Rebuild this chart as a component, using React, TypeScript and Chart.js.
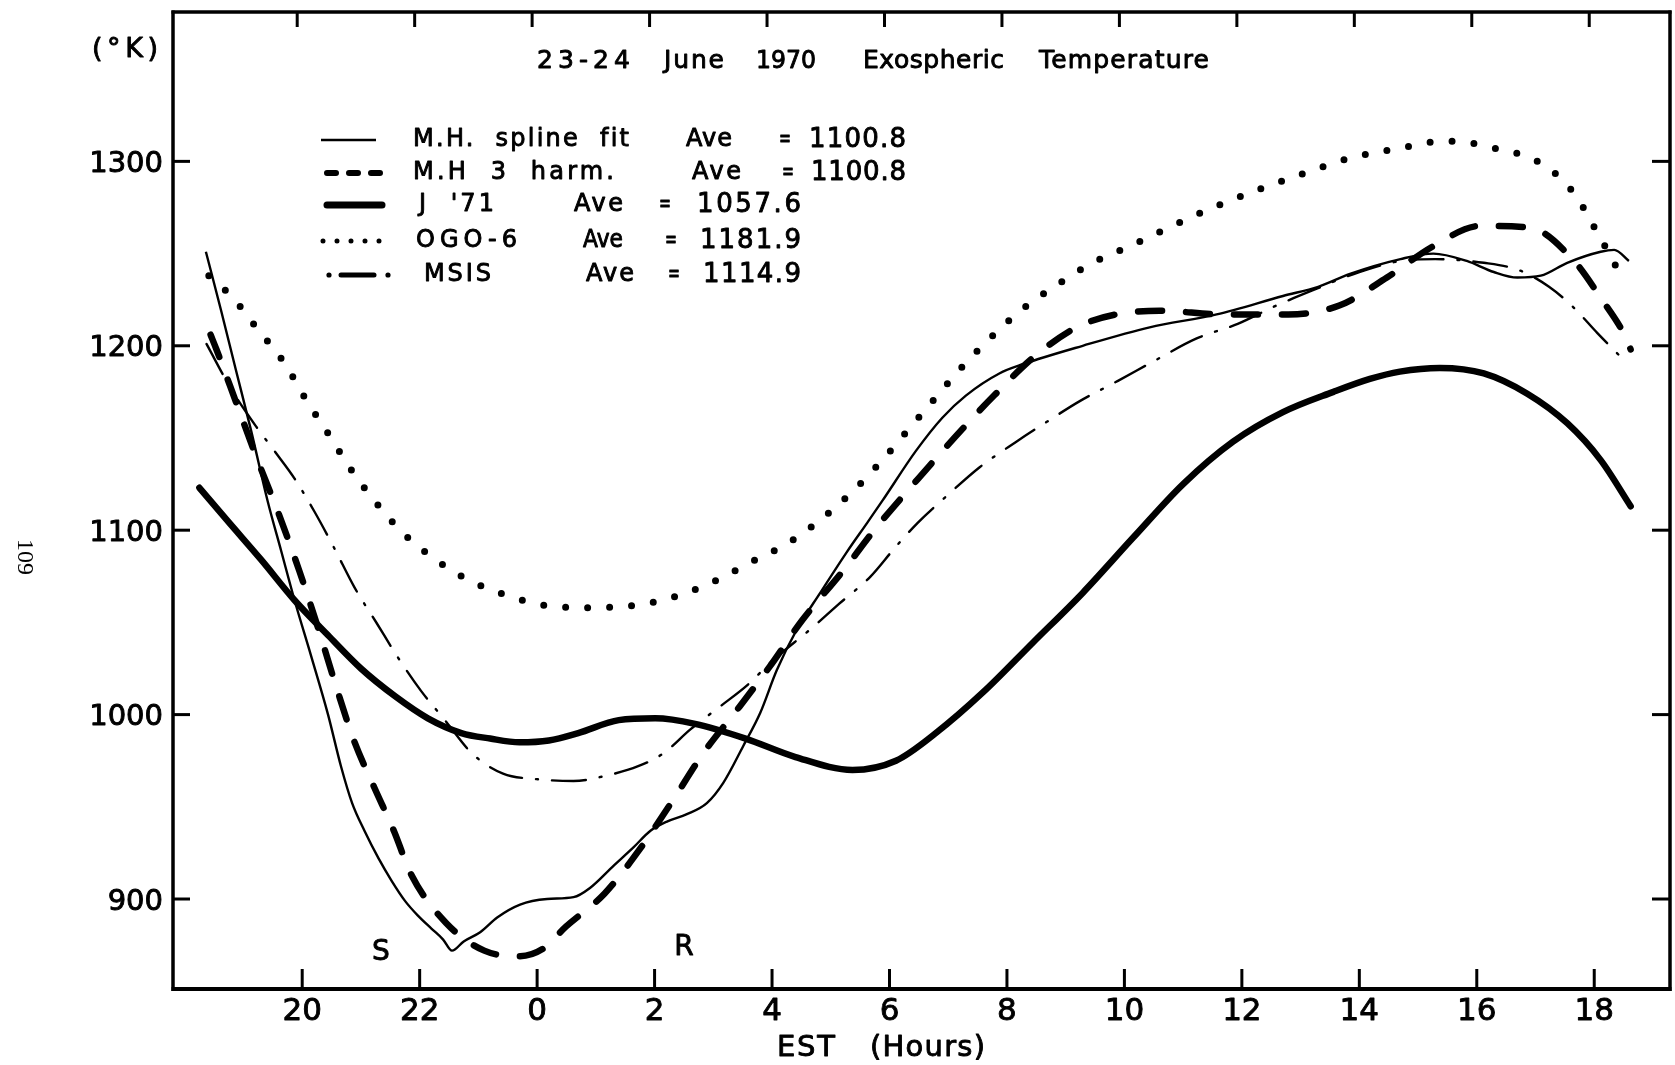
import React, { useEffect, useRef } from 'react';
import { Chart, registerables } from 'chart.js';

Chart.register(...registerables);

// Time runs continuously in EST hours: 18-24 is the evening of 23 June, 24-43 is 24 June.
const splineHours = [18.36, 18.62, 18.87, 19.13, 19.41, 19.64, 19.87, 20.15, 20.44, 20.66, 20.85, 21.06, 21.3, 21.52, 21.75, 21.97, 22.2, 22.4, 22.55, 22.75, 23.03, 23.32, 23.71, 24.17, 24.62, 24.9, 25.3, 25.64, 25.93, 26.21, 26.55, 26.89, 27.17, 27.51, 27.8, 28.08, 28.42, 28.82, 29.27, 29.62, 29.88, 30.45, 30.9, 31.3, 31.87, 32.27, 33.29, 34.43, 35.57, 36.7, 37.3, 37.84, 38.7, 39.26, 39.83, 40.29, 40.69, 41.09, 41.54, 42.11, 42.34, 42.59];
const splineTemps = [1251, 1219, 1187, 1154, 1116, 1089, 1062, 1032, 1000, 972, 952, 937, 922, 910, 899, 891, 884, 878, 872, 877, 882, 890, 897, 900, 901, 906, 918, 928, 937, 942, 946, 952, 963, 983, 1001, 1024, 1046, 1066, 1088, 1104, 1116, 1143, 1161, 1173, 1185, 1190, 1200, 1210, 1217, 1227, 1232, 1239, 1247, 1250, 1246, 1240, 1237, 1238, 1245, 1251, 1252, 1246];

const harmHours = [18.44, 18.54, 18.89, 19.24, 19.61, 19.95, 20.28, 20.58, 20.88, 21.22, 21.56, 21.86, 22.45, 23.1, 23.71, 24.1, 24.49, 25.15, 25.77, 26.28, 26.85, 27.39, 27.96, 28.51, 29.21, 29.79, 30.49, 31.13, 31.78, 32.5, 33.32, 34.6, 35.68, 36.79, 37.67, 38.47, 39.26, 40.06, 40.91, 41.63, 42.11, 42.56, 42.62];
const harmTemps = [1206, 1198, 1168, 1138, 1108, 1078, 1046, 1015, 986, 961, 937, 913, 887, 872, 869, 873, 885, 903, 928, 952, 980, 1002, 1026, 1051, 1078, 1102, 1128, 1151, 1173, 1195, 1212, 1219, 1217, 1217, 1222, 1237, 1254, 1265, 1264, 1247, 1226, 1203, 1198];

const j71Hours = [18.25, 18.73, 19.3, 19.87, 20.44, 21.0, 21.58, 22.14, 22.71, 23.2, 23.7, 24.2, 24.7, 25.39, 26.01, 26.69, 27.55, 28.4, 29.37, 30.11, 30.79, 31.59, 32.44, 33.29, 34.15, 35.0, 35.85, 36.7, 37.56, 38.18, 38.69, 39.37, 40.12, 40.86, 41.54, 42.11, 42.62];
const j71Temps = [1123, 1105, 1084, 1062, 1043, 1025, 1010, 998, 990, 987, 985, 986, 990, 997, 998, 995, 987, 977, 970, 975, 990, 1012, 1039, 1066, 1096, 1125, 1148, 1164, 1175, 1182, 1186, 1188, 1185, 1174, 1158, 1138, 1113];

const ogoHours = [18.41, 18.82, 19.24, 19.69, 20.06, 20.47, 20.83, 21.28, 21.73, 22.23, 22.77, 23.45, 24.19, 24.92, 25.59, 26.25, 27.0, 27.66, 28.22, 28.8, 29.37, 29.85, 30.36, 30.79, 31.22, 31.71, 32.19, 32.85, 33.46, 34.09, 34.75, 35.51, 36.31, 37.1, 37.87, 38.66, 39.45, 39.88, 40.32, 40.72, 41.09, 41.42, 41.67, 41.85, 42.04, 42.27, 42.5];
const ogoTemps = [1238, 1226, 1209, 1191, 1171, 1151, 1133, 1114, 1098, 1085, 1074, 1065, 1059, 1058, 1059, 1063, 1072, 1083, 1092, 1105, 1121, 1137, 1156, 1172, 1188, 1204, 1218, 1233, 1245, 1254, 1264, 1275, 1285, 1294, 1302, 1307, 1311, 1310, 1307, 1304, 1299, 1291, 1282, 1273, 1262, 1249, 1235];

const msisHours = [18.37, 18.8, 19.22, 19.55, 19.87, 20.21, 20.55, 20.89, 21.28, 21.63, 22.02, 22.43, 22.89, 23.42, 23.99, 24.62, 25.19, 25.72, 26.15, 26.61, 27.14, 27.58, 28.0, 28.68, 29.14, 29.68, 30.08, 30.48, 30.99, 31.53, 32.16, 32.69, 33.24, 33.89, 34.52, 35.23, 35.94, 36.53, 37.2, 38.0, 38.7, 39.29, 40.12, 40.72, 41.23, 41.64, 42.05, 42.48];
const msisTemps = [1201, 1176, 1156, 1142, 1128, 1110, 1090, 1069, 1049, 1031, 1013, 997, 979, 968, 965, 964, 967, 972, 979, 992, 1005, 1016, 1029, 1047, 1060, 1075, 1090, 1104, 1119, 1134, 1148, 1159, 1170, 1181, 1192, 1204, 1212, 1221, 1230, 1240, 1246, 1247, 1245, 1241, 1232, 1221, 1207, 1193];

const xTickHours = [20, 22, 24, 26, 28, 30, 32, 34, 36, 38, 40, 42];
const xTickLabels = ['20', '22', '0', '2', '4', '6', '8', '10', '12', '14', '16', '18'];
const yTickValues = [900, 1000, 1100, 1200, 1300];
const yTickLabels = ['900', '1000', '1100', '1200', '1300'];

const seriesNames = ['M.H.  spline  fit', 'M.H  3  harm.', "J  '71", 'OGO-6', 'MSIS'];
const seriesAverages = ['1100.8', '1100.8', '1057.6', '1181.9', '1114.9'];

const SANS = '"DejaVu Sans", "Liberation Sans", sans-serif';
const INK = 0.9; // extra stroke around lettering for a heavier pen weight

function toPoints(hours: number[], temps: number[]) {
  return hours.map((h, i) => ({ x: h, y: temps[i] }));
}

function inkText(ctx: CanvasRenderingContext2D, text: string, x: number, y: number) {
  ctx.fillText(text, x, y);
  ctx.lineWidth = INK;
  ctx.lineJoin = 'round';
  ctx.strokeText(text, x, y);
}

// Draws a text run so that it spans x0..x1, spreading letters (or squeezing) as needed.
function fitText(ctx: CanvasRenderingContext2D, text: string, x0: number, x1: number, yc: number, size: number, family = SANS) {
  ctx.font = `${size}px ${family}`;
  (ctx as any).letterSpacing = '0px';
  ctx.textAlign = 'left';
  ctx.textBaseline = 'middle';
  const w = ctx.measureText(text).width;
  const target = x1 - x0;
  const n = Array.from(text).length;
  if (target >= w && n > 1) {
    (ctx as any).letterSpacing = `${(target - w) / (n - 1)}px`;
    inkText(ctx, text, x0, yc);
    (ctx as any).letterSpacing = '0px';
  } else {
    ctx.save();
    ctx.translate(x0, yc);
    ctx.scale(target / w, 1);
    inkText(ctx, text, 0, 0);
    ctx.restore();
  }
}

function line(ctx: CanvasRenderingContext2D, x0: number, y0: number, x1: number, y1: number) {
  ctx.beginPath();
  ctx.moveTo(x0, y0);
  ctx.lineTo(x1, y1);
  ctx.stroke();
}

// Legend layout: row centres and column spans
const legendRowsY = [140, 173, 205, 241, 275];
const legendSampleX = [[321, 376], [324, 383], [324, 385], [323, 379], [327, 390]];
const legendNameX = [[413, 629], [413, 614], [419, 494], [416, 517], [424, 491]];
const legendAveX = [[686, 732], [692, 741], [574, 623], [583, 623], [586, 634]];
const legendEqX = [779, 782, 659, 665, 668];
const legendValX = [[809, 906], [811, 906], [697, 801], [700, 801], [703, 801]];

const decorPlugin = {
  id: 'decor',
  afterDatasetsDraw(chart: any) {
    const { ctx, chartArea: a, scales } = chart;
    const xs = scales.x;
    const ys = scales.y;
    ctx.save();
    ctx.strokeStyle = '#000';
    ctx.fillStyle = '#000';
    ctx.lineCap = 'butt';

    // frame
    ctx.lineWidth = 3.5;
    line(ctx, a.left, a.top - 1.5, a.left, a.bottom + 2);
    line(ctx, a.right, a.top - 1.5, a.right, a.bottom + 2);
    line(ctx, a.left - 1.5, a.top, a.right + 1.5, a.top);
    ctx.lineWidth = 4;
    line(ctx, a.left - 1.5, a.bottom, a.right + 1.5, a.bottom);

    // x ticks, bottom and top, pointing inward
    ctx.lineWidth = 3;
    xTickHours.forEach((h) => {
      const px = xs.getPixelForValue(h);
      line(ctx, px, a.bottom, px, a.bottom - 20);
      line(ctx, px - 5, a.top, px - 5, a.top + 15);
    });
    // y ticks, left and right
    yTickValues.forEach((v) => {
      const py = ys.getPixelForValue(v);
      line(ctx, a.left, py, a.left + 17, py);
      line(ctx, a.right, py, a.right - 18, py);
    });

    // tick labels
    ctx.textBaseline = 'middle';
    ctx.font = `31px ${SANS}`;
    ctx.textAlign = 'center';
    xTickHours.forEach((h, i) => {
      inkText(ctx, xTickLabels[i], xs.getPixelForValue(h), 1012);
    });
    ctx.font = `29px ${SANS}`;
    ctx.textAlign = 'right';
    yTickValues.forEach((v, i) => {
      inkText(ctx, yTickLabels[i], 163, ys.getPixelForValue(v) + 3);
    });

    // axis titles
    fitText(ctx, '(°K)', 92, 158, 50, 27);
    fitText(ctx, 'EST', 777, 835, 1048, 29);
    fitText(ctx, '(Hours)', 870, 985, 1048, 29);

    // title
    fitText(ctx, '23-24', 537, 630, 61, 25);
    fitText(ctx, 'June', 664, 724, 61, 25);
    fitText(ctx, '1970', 756, 816, 61, 25);
    fitText(ctx, 'Exospheric', 863, 1004, 61, 25);
    fitText(ctx, 'Temperature', 1039, 1209, 61, 25);

    // legend
    legendRowsY.forEach((yc, i) => {
      const [sx0, sx1] = legendSampleX[i];
      ctx.save();
      ctx.setLineDash([]);
      if (i === 0) {
        ctx.lineWidth = 2.5;
        line(ctx, sx0, yc, sx1, yc);
      } else if (i === 1) {
        ctx.lineWidth = 6;
        ctx.lineCap = 'round';
        ctx.setLineDash([9, 13]);
        line(ctx, sx0 + 3, yc, sx1 - 3, yc);
      } else if (i === 2) {
        ctx.lineWidth = 7;
        ctx.lineCap = 'round';
        line(ctx, sx0 + 3, yc, sx1 - 3, yc);
      } else if (i === 3) {
        ctx.lineWidth = 5;
        ctx.lineCap = 'round';
        ctx.setLineDash([0, 14]);
        line(ctx, sx0, yc, sx1 + 1, yc);
      } else {
        ctx.beginPath();
        ctx.arc(sx0 + 2, yc, 2.6, 0, Math.PI * 2);
        ctx.arc(sx1 - 2, yc, 2.6, 0, Math.PI * 2);
        ctx.fill();
        ctx.lineWidth = 5;
        ctx.lineCap = 'round';
        line(ctx, sx0 + 14, yc, sx1 - 16, yc);
      }
      ctx.restore();
      const [nx0, nx1] = legendNameX[i];
      fitText(ctx, seriesNames[i], nx0, nx1, yc, 24);
      const [ax0, ax1] = legendAveX[i];
      fitText(ctx, 'Ave', ax0, ax1, yc, 24);
      fitText(ctx, '=', legendEqX[i], legendEqX[i] + 12, yc, 24);
      const [vx0, vx1] = legendValX[i];
      fitText(ctx, seriesAverages[i], vx0, vx1, yc, 26);
    });

    // sunset / sunrise markers
    ctx.font = `28px ${SANS}`;
    ctx.textAlign = 'center';
    ctx.textBaseline = 'middle';
    inkText(ctx, 'S', 381, 953);
    inkText(ctx, 'R', 684, 948);

    // page number
    ctx.save();
    ctx.translate(24, 557);
    ctx.rotate(Math.PI / 2);
    ctx.font = '24px "Liberation Serif", "DejaVu Serif", serif';
    ctx.textAlign = 'center';
    ctx.textBaseline = 'middle';
    ctx.fillText('109', 0, 0);
    ctx.restore();

    ctx.restore();
  },
};

export default function App() {
  const canvasRef = useRef<HTMLCanvasElement | null>(null);

  useEffect(() => {
    const canvas = canvasRef.current;
    if (!canvas) return;
    const common = {
      borderColor: '#000',
      backgroundColor: '#000',
      pointRadius: 0,
      fill: false,
      cubicInterpolationMode: 'monotone' as const,
      borderJoinStyle: 'round' as const,
    };
    const chart = new Chart(canvas, {
      type: 'line',
      data: {
        datasets: [
          { ...common, label: seriesNames[0], data: toPoints(splineHours, splineTemps), borderWidth: 2.4 },
          { ...common, label: seriesNames[1], data: toPoints(harmHours, harmTemps), borderWidth: 6.5, borderDash: [24, 24], borderCapStyle: 'round' },
          { ...common, label: seriesNames[2], data: toPoints(j71Hours, j71Temps), borderWidth: 6.5, borderCapStyle: 'round' },
          { ...common, label: seriesNames[3], data: toPoints(ogoHours, ogoTemps), borderWidth: 7, borderDash: [0, 22], borderCapStyle: 'round' },
          { ...common, label: seriesNames[4], data: toPoints(msisHours, msisTemps), borderWidth: 2.4, borderDash: [34, 14, 2, 14], borderCapStyle: 'round' },
        ] as any,
      },
      options: {
        responsive: false,
        animation: false,
        devicePixelRatio: 1,
        layout: { padding: { left: 173, right: 5, top: 12, bottom: 76 } },
        scales: {
          x: { type: 'linear', min: 17.8, max: 43.29, display: false },
          y: { type: 'linear', min: 851.2, max: 1381, display: false },
        },
        plugins: { legend: { display: false }, tooltip: { enabled: false } },
        events: [],
      },
      plugins: [decorPlugin],
    });
    return () => chart.destroy();
  }, []);

  return (
    <div style={{ position: 'fixed', left: 0, top: 0, width: 1675, height: 1065, background: '#fff' }}>
      <canvas ref={canvasRef} width={1675} height={1065} style={{ display: 'block' }} />
    </div>
  );
}
